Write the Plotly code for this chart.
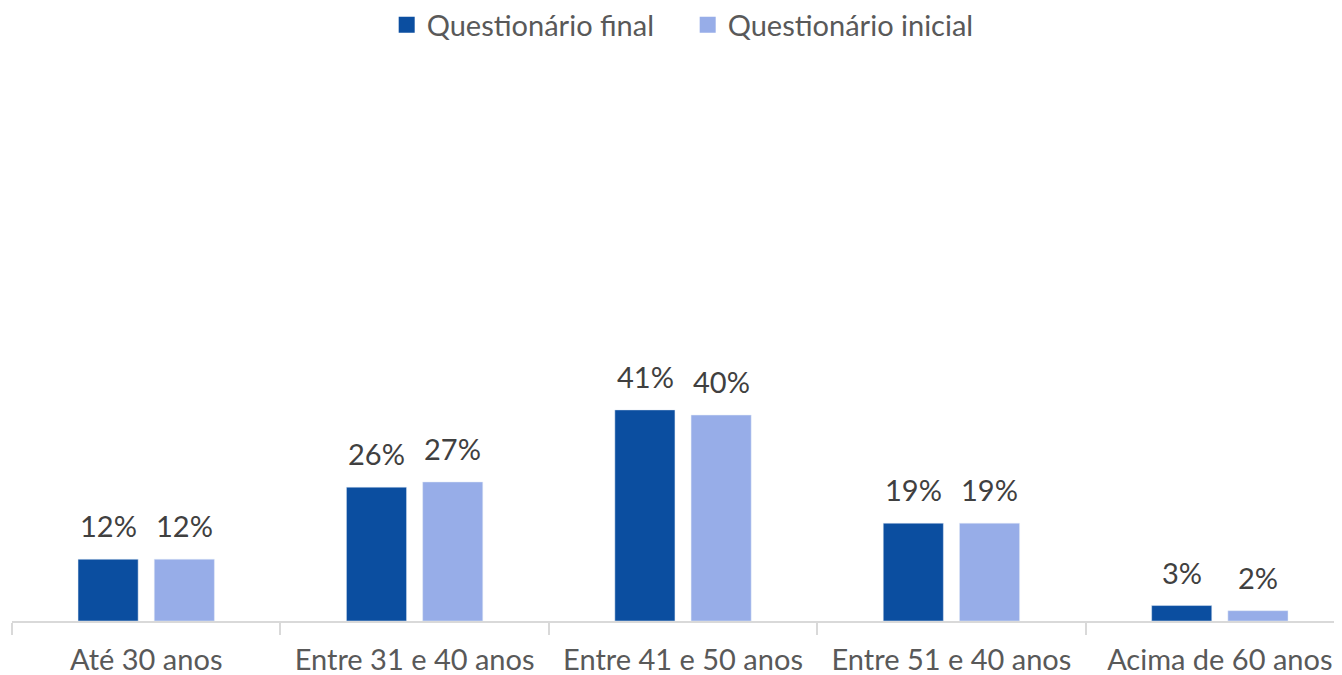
import plotly.graph_objects as go

categorias = ['Até 30 anos', 'Entre 31 e 40 anos', 'Entre 41 e 50 anos', 'Entre 51 e 40 anos', 'Acima de 60 anos']
final = [0.12, 0.26, 0.41, 0.19, 0.03]
inicial = [0.12, 0.27, 0.40, 0.19, 0.02]

cor_final = '#0B4EA0'
cor_inicial = '#97ADE8'
fonte = 'Lato'
tam = 29

fig = go.Figure()
fig.add_trace(go.Bar(x=categorias, y=final, name='Questionário final', marker_color=cor_final,
                     width=0.224, offset=-0.254, showlegend=False))
fig.add_trace(go.Bar(x=categorias, y=inicial, name='Questionário inicial', marker_color=cor_inicial,
                     width=0.224, offset=0.030, showlegend=False))

# entradas da legenda com quadrados maiores
for nome, cor in (('Questionário final', cor_final), ('Questionário inicial', cor_inicial)):
    fig.add_trace(go.Scatter(x=[None], y=[None], mode='markers', name=nome,
                             marker=dict(symbol='square', size=16, color=cor)))

# rótulos acima das barras
for i, cat in enumerate(categorias):
    for val, dx in ((final[i], -38), (inicial[i], 38)):
        fig.add_annotation(x=cat, y=val, text=f'{round(val*100)}%', showarrow=False,
                           xshift=dx, yshift=14, yanchor='bottom',
                           font=dict(family=fonte, size=tam, color='#404040'))

fig.update_layout(
    width=1342, height=675,
    margin=dict(l=4, r=0, t=60, b=62),
    plot_bgcolor='white', paper_bgcolor='white',
    barmode='group',
    font=dict(family=fonte, size=tam, color='#595959'),
    legend=dict(orientation='h', x=0.505, xanchor='center', y=0.975, yref='container',
                yanchor='middle', font=dict(size=tam, color='#595959'), itemwidth=30,
                entrywidth=256, itemsizing='trace'),
)
fig.update_xaxes(range=[-0.5, 4.485], showline=True, linecolor='#D9D9D9', linewidth=1.5,
                 ticks='outside', tickson='boundaries', ticklen=12, tickcolor='#D9D9D9',
                 tickwidth=1.5, showgrid=False, ticklabelstandoff=12,
                 tickfont=dict(size=tam, color='#595959'))
fig.update_yaxes(range=[0, 1.074], visible=False)

fig.write_html('out.html')
